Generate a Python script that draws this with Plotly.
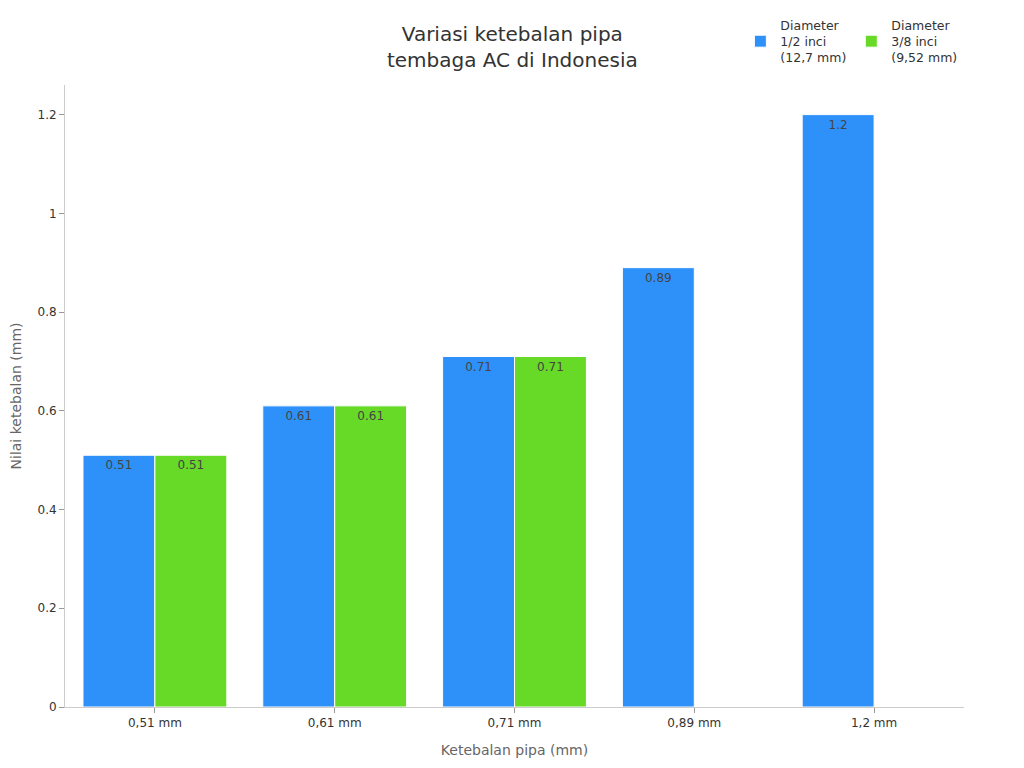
import plotly.graph_objects as go

categories = ["0,51 mm", "0,61 mm", "0,71 mm", "0,89 mm", "1,2 mm"]
half_inch = [0.51, 0.61, 0.71, 0.89, 1.2]
three_eighth = [0.51, 0.61, 0.71, None, None]
labels_half = ["0.51", "0.61", "0.71", "0.89", "1.2"]
labels_3_8 = ["0.51", "0.61", "0.71", "", ""]

fig = go.Figure()
fig.add_trace(go.Bar(
    x=categories, y=half_inch, name="Diameter<br>1/2 inci<br>(12,7 mm)",
    marker=dict(color="#2e91fa", line=dict(color="white", width=1)),
    text=labels_half, textposition="inside", insidetextanchor="end",
    textfont=dict(color="#444444", size=12),
))
fig.add_trace(go.Bar(
    x=categories, y=three_eighth, name="Diameter<br>3/8 inci<br>(9,52 mm)",
    marker=dict(color="#66da26", line=dict(color="white", width=1)),
    text=labels_3_8, textposition="inside", insidetextanchor="end",
    textfont=dict(color="#444444", size=12),
))

fig.update_layout(
    width=1024, height=768,
    font=dict(family="DejaVu Sans", size=12, color="#333333"),
    title=dict(text="Variasi ketebalan pipa<br>tembaga AC di Indonesia",
               x=0.4925, xanchor="center", y=0.957, yanchor="top",
               font=dict(size=20, color="#333333")),
    barmode="group", bargap=0.2, bargroupgap=0,
    plot_bgcolor="white", paper_bgcolor="white",
    margin=dict(l=57, r=68, t=77, b=69, autoexpand=False),
    legend=dict(orientation="h", x=0.932, xanchor="right", xref="container",
                y=0.997, yanchor="top", yref="container",
                font=dict(size=12.5), itemwidth=30),
    xaxis=dict(title=dict(text="Ketebalan pipa (mm)", font=dict(color="#666666", size=14)),
               showline=True, linecolor="#cccccc", ticks="outside", tickcolor="#999999",
               ticklen=5, automargin=False),
    yaxis=dict(title=dict(text="Nilai ketebalan (mm)", font=dict(color="#666666", size=14)),
               range=[0, 1.26], dtick=0.2, showgrid=False, zeroline=False,
               showline=True, linecolor="#cccccc", ticks="outside", tickcolor="#999999",
               ticklen=5, tickformat="~g", automargin=False),
    uniformtext=dict(minsize=8, mode="show"),
)

fig.write_html("out.html")
